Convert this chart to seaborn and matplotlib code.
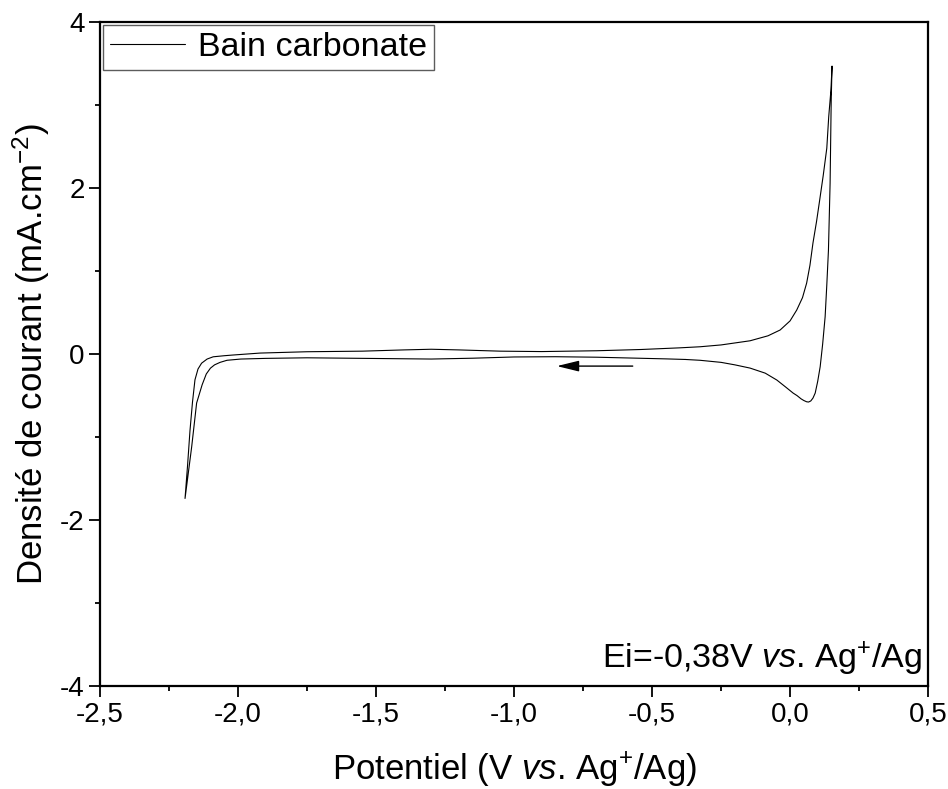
import pandas as pd
import matplotlib
matplotlib.use("Agg")
import matplotlib.pyplot as plt
from matplotlib.ticker import MultipleLocator, FuncFormatter
import seaborn as sns

# cyclic voltammogram (starts at Ei = -0.38 V, scan towards negative)
potential = [-0.38, -0.45, -0.55, -0.70, -0.85, -1.00, -1.15, -1.30, -1.45, -1.60,
             -1.75, -1.90, -1.99, -2.04, -2.065, -2.085, -2.10, -2.115, -2.13, -2.15,
             -2.168, -2.192,
             -2.183, -2.174, -2.165, -2.156, -2.145, -2.132, -2.112, -2.09, -2.05, -2.02,
             -1.92, -1.75, -1.55, -1.40, -1.30, -1.20, -1.05, -0.90, -0.70, -0.54,
             -0.40, -0.326, -0.25, -0.145, -0.08, -0.036, 0.0, 0.024, 0.045, 0.060,
             0.072, 0.083, 0.096, 0.107, 0.120, 0.133, 0.140, 0.148, 0.152,
             0.149, 0.145, 0.139, 0.133, 0.127, 0.118, 0.109, 0.100, 0.091, 0.083,
             0.075, 0.067, 0.060, 0.050, 0.040, 0.025, 0.011, -0.015, -0.048, -0.09,
             -0.145, -0.20, -0.25, -0.326, -0.38]
current = [-0.065, -0.058, -0.05, -0.038, -0.032, -0.035, -0.05, -0.06, -0.055, -0.05,
           -0.045, -0.052, -0.06, -0.075, -0.10, -0.13, -0.17, -0.24, -0.37, -0.59,
           -1.12, -1.74,
           -1.35, -0.92, -0.58, -0.31, -0.18, -0.11, -0.06, -0.033, -0.02, -0.012,
           0.012, 0.028, 0.035, 0.05, 0.058, 0.05, 0.035, 0.03, 0.04, 0.055,
           0.075, 0.088, 0.11, 0.16, 0.22, 0.29, 0.40, 0.53, 0.68, 0.855,
           1.07, 1.34, 1.60, 1.85, 2.15, 2.48, 2.86, 3.18, 3.47,
           3.06, 2.06, 1.25, 0.83, 0.45, 0.12, -0.153, -0.33, -0.47, -0.53,
           -0.565, -0.578, -0.575, -0.56, -0.54, -0.50, -0.47, -0.40, -0.313, -0.23,
           -0.169, -0.13, -0.10, -0.075, -0.065]

df = pd.DataFrame({"potential": potential, "current": current, "serie": "Bain carbonate"})

sns.set_style("ticks")
plt.rcParams["font.family"] = ["Liberation Sans", "DejaVu Sans"]
plt.rcParams["mathtext.fontset"] = "custom"
plt.rcParams["mathtext.rm"] = "Liberation Sans"
plt.rcParams["mathtext.it"] = "Liberation Sans:italic"
plt.rcParams["axes.unicode_minus"] = False
plt.rcParams["text.color"] = "black"
plt.rcParams["axes.labelcolor"] = "black"

fig = plt.figure(figsize=(9.48, 7.89), dpi=100)
ax = fig.add_axes([0.1055, 0.1305, 0.8735, 0.8415])

sns.lineplot(data=df, x="potential", y="current", hue="serie", palette=["black"],
             sort=False, estimator=None, lw=0.8, ax=ax)

ax.set_xlim(-2.5, 0.5)
ax.set_ylim(-4, 4)
ax.xaxis.set_major_locator(MultipleLocator(0.5))
ax.xaxis.set_minor_locator(MultipleLocator(0.25))
ax.yaxis.set_major_locator(MultipleLocator(2))
ax.yaxis.set_minor_locator(MultipleLocator(1))
ax.xaxis.set_major_formatter(FuncFormatter(lambda v, p: f"{v:.1f}".replace(".", ",")))
ax.yaxis.set_major_formatter(FuncFormatter(lambda v, p: f"{v:.0f}"))

ax.tick_params(which="major", direction="out", length=8, width=1.3, labelsize=20, pad=3,
               color="black", labelcolor="black")
ax.tick_params(which="minor", direction="out", length=3.8, width=1.3, color="black")
for s in ax.spines.values():
    s.set_linewidth(1.6)
    s.set_color("black")

ax.set_xlabel(r"Potentiel (V $\it{vs}$. Ag$^{+}$/Ag)", fontsize=25, labelpad=17)
ax.set_ylabel(r"Densité de courant (mA.cm$^{-2}$)", fontsize=25, labelpad=6)

# scan direction arrow
ax.annotate("", xy=(-0.855, -0.145), xytext=(-0.56, -0.145),
            arrowprops=dict(arrowstyle="-|>,head_length=0.9,head_width=0.22",
                            color="black", lw=1, mutation_scale=15))

ax.text(0.993, 0.027, r"Ei=-0,38V $\it{vs}$. Ag$^{+}$/Ag", transform=ax.transAxes,
        ha="right", va="baseline", fontsize=24.5)

leg = ax.legend(loc="upper left", fontsize=24.5, frameon=True, fancybox=False,
                borderpad=0.2, borderaxespad=0.1, handlelength=2.2, handletextpad=0.38)
leg.get_frame().set_edgecolor("#333333")
leg.get_frame().set_linewidth(1.0)
for h in leg.get_lines():
    h.set_linewidth(0.8)
for t in leg.get_texts():
    t.set_color("black")

fig.savefig("out.png", dpi=100)
